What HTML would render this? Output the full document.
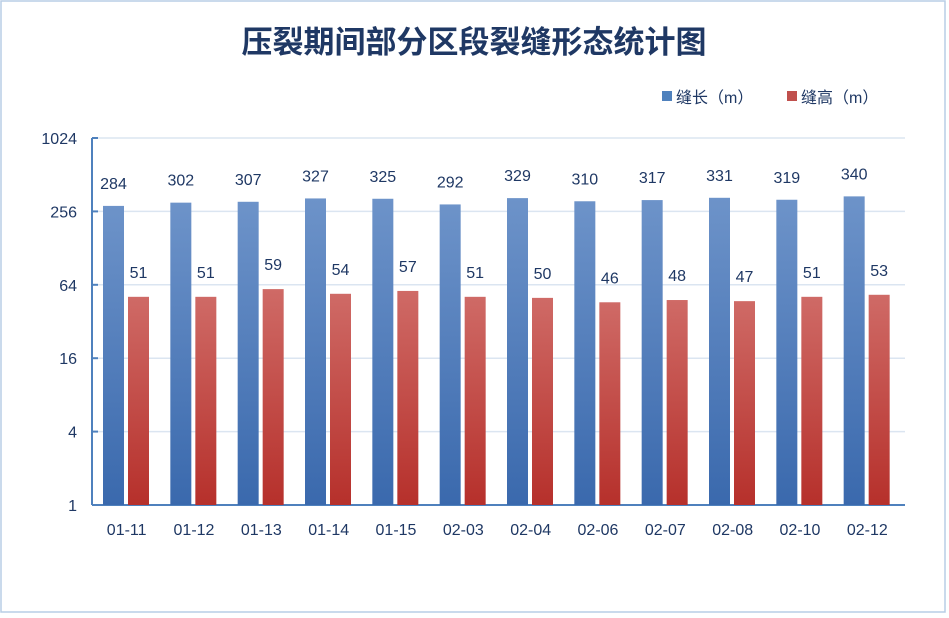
<!DOCTYPE html>
<html><head><meta charset="utf-8"><style>
body{margin:0;background:#fff;}
svg{display:block;font-family:"Liberation Sans","Noto Sans CJK SC",sans-serif;}
</style></head><body>
<svg id="chart" width="949" height="618">
<defs>
<linearGradient id="gb" x1="0" y1="0" x2="0" y2="1"><stop offset="0" stop-color="#6d93c9"/><stop offset="1" stop-color="#3a69ad"/></linearGradient>
<linearGradient id="gr" x1="0" y1="0" x2="0" y2="1"><stop offset="0" stop-color="#cf6a66"/><stop offset="1" stop-color="#b6302b"/></linearGradient>
</defs>
<rect x="1" y="1" width="944" height="611" fill="#fff" stroke="#b9cde5" stroke-width="1.5"/>
<text x="474" y="53" text-anchor="middle" font-size="31" font-weight="bold" fill="#1f3864">压裂期间部分区段裂缝形态统计图</text>
<g>
<rect x="662" y="91" width="10" height="10" fill="#4f81bd"/>
<text x="676" y="103" font-size="16" fill="#1f3864">缝长（m）</text>
<rect x="787" y="91" width="10" height="10" fill="#c0504d"/>
<text x="801" y="103" font-size="16" fill="#1f3864">缝高（m）</text>
</g>
<g id="plot"></g>
</svg>
<script>
const categories=["01-11","01-12","01-13","01-14","01-15","02-03","02-04","02-06","02-07","02-08","02-10","02-12"];
const lengthValues=[284,302,307,327,325,292,329,310,317,331,319,340];
const heightValues=[51,51,59,54,57,51,50,46,48,47,51,53];
const tickValues=[1,4,16,64,256,1024];
const NS="http://www.w3.org/2000/svg";
const g=document.getElementById('plot');
const X0=97,X1=905,YTOP=138,YBOT=505;
const yScale=v=>YBOT-(Math.log2(v)/10)*(YBOT-YTOP);
const gw=(X1-X0)/categories.length;
const xBand=i=>X0+i*gw;
function mk(tag,a){const e=document.createElementNS(NS,tag);for(const k in a)e.setAttribute(k,a[k]);g.appendChild(e);return e;}
tickValues.forEach(t=>{
  const y=yScale(t);
  if(t>1){const l=mk('line',{x1:92,x2:X1,y1:y,y2:y,stroke:'#dbe5f1','stroke-width':1.5});
  
  }
  const tk=mk('line',{x1:92,x2:98,y1:y,y2:y,stroke:'#4f81bd','stroke-width':2});
  
  
  const tx=mk('text',{x:77,y:y+6,'text-anchor':'end','font-size':16,fill:'#1f3864'});
  tx.textContent=t;
  
  
});
const ax=mk('line',{x1:92,x2:92,y1:YTOP,y2:YBOT,stroke:'#4f81bd','stroke-width':2});


const xa=mk('line',{x1:92,x2:X1,y1:YBOT,y2:YBOT,stroke:'#4f81bd','stroke-width':2});


categories.forEach((c,i)=>{
  const x=xBand(i);
  const yb=yScale(lengthValues[i]);
  const b=mk('rect',{x:x+6,y:yb,width:21,height:YBOT-yb,fill:'url(#gb)'});
  
  
  const lb=mk('text',{x:x+16.5,y:yb-17,'text-anchor':'middle','font-size':16,fill:'#1f3864'});
  lb.textContent=lengthValues[i];
  
  
  const yr=yScale(heightValues[i]);
  const r=mk('rect',{x:x+31,y:yr,width:21,height:YBOT-yr,fill:'url(#gr)'});
  
  
  const lr=mk('text',{x:x+41.5,y:yr-19,'text-anchor':'middle','font-size':16,fill:'#1f3864'});
  lr.textContent=heightValues[i];
  
  
  const cl=mk('text',{x:x+gw/2-4,y:YBOT+30,'text-anchor':'middle','font-size':16,fill:'#1f3864'});
  cl.textContent=c;
  
  
});
</script>
</body></html>
